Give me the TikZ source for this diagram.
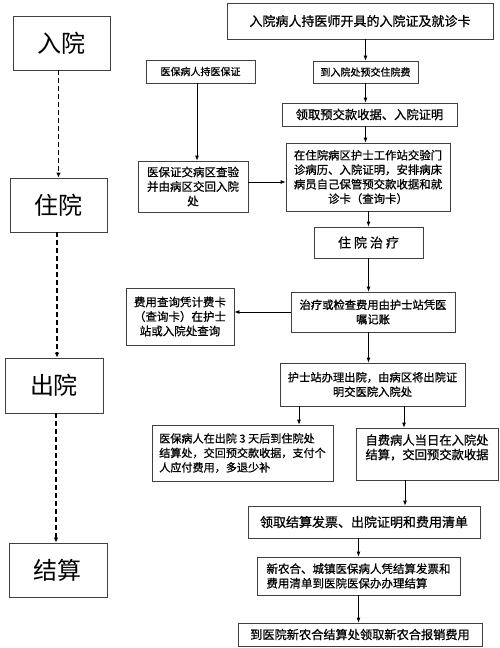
\documentclass[tikz,border=0pt]{standalone}
\usepackage{fontspec}
\newfontfamily\cjk{Noto Sans CJK SC}
\newfontfamily\cjkb{Noto Sans CJK SC}[FakeBold=0.8]
\usetikzlibrary{arrows.meta}
\tikzset{
  stagebox/.style={draw=black!75,line width=0.8pt,inner sep=0pt,font=\cjk\fontsize{24}{28}\selectfont},
  flowbox/.style={draw=black!75,line width=0.8pt,inner sep=0pt,font=\cjkb\fontsize{#1}{14.5}\selectfont},
  flowbox/.default=11,
  sz/.style n args={2}{minimum width=#1pt,minimum height=#2pt},
  flowarrow/.style={line width=0.8pt,-{Latex[length=5pt,width=4pt]}},
  stagearrow/.style={line width=1.4pt,dash pattern=on 5pt off 3pt,-{Latex[length=5pt,width=4.5pt]}}
}
\begin{document}
\begin{tikzpicture}[x=1pt,y=-1pt]
  \useasboundingbox[fill=white] (0,0) rectangle (500,648);
  % stages on the left
  \node[stagebox,sz={97}{54}] (ru)   at (61.5,43)  {入院};
  \node[stagebox,sz={97}{54}] (zhu)  at (58.5,205) {住院};
  \node[stagebox,sz={98}{55}] (chu)  at (54,385.5) {出院};
  \node[stagebox,sz={98}{54}] (jie)  at (58,570)   {结算};
  \draw[stagearrow] (ru.south -| zhu.north) -- (zhu.north);
  \draw[stagearrow] (zhu.south -| 57,0) -- (chu.north -| 57,0);
  \draw[stagearrow] (chu.south -| 56,0) -- (jie.north -| 56,0);
  % admission
  \node[flowbox=13,sz={266}{36}] (card)    at (360,21)    {入院病人持医师开具的入院证及就诊卡};
  \node[flowbox=10,sz={105}{22}] (prepay)  at (365.5,72)  {到入院处预交住院费};
  \node[flowbox=12.3,sz={175}{23}] (receipt) at (369.5,114.5) {领取预交款收据、入院证明};
  \node[flowbox=10,sz={109}{23}] (insur)   at (200.5,71.5) {医保病人持医保证};
  \node[flowbox=11.5,sz={110}{51},align=center] (check) at (193,186.5)
    {医保证交病区查验\\并由病区交回入院\\处};
  \node[flowbox=11.4,sz={164}{68},align=center] (ward) at (368,177)
    {在住院病区护士工作站交验门\\诊病历、入院证明，安排病床\\病员自己保管预交款收据和就\\诊卡（查询卡）};
  % stay
  \node[flowbox=13,sz={109}{31}] (treat) at (368.5,242.5)
    {住\hspace{3pt}院\hspace{3pt}治\hspace{3pt}疗};
  \node[flowbox=11.3,sz={164}{40},align=center] (bill) at (373,312)
    {治疗或检查费用由护士站凭医\\嘱记账};
  \node[flowbox=11.5,sz={108}{57},align=center] (query) at (180,316.5)
    {费用查询凭计费卡\\（查询卡）在护士\\站或入院处查询};
  % discharge
  \node[flowbox=11.3,sz={185}{43},align=center] (leave) at (372.5,384.5)
    {护士站办理出院，由病区将出院证\\明交医院入院处};
  \node[flowbox=11.1,sz={181}{56},align=left] (insurpay) at (242.5,453)
    {医保病人在出院 3 天后到住院处\\结算处，交回预交款收据，支付个\\人应付费用，多退少补};
  \node[flowbox=12.3,sz={142}{52},align=left] (selfpay) at (427,454)
    {自费病人当日在入院处\\结算，交回预交款收据\\\mbox{}};
  % settlement
  \node[flowbox=13,sz={232}{32}] (invoice) at (364,522) {领取结算发票、出院证明和费用清单};
  \node[flowbox=11.5,sz={203}{38},align=left] (rural) at (358.5,576)
    {新农合、城镇医保病人凭结算发票和\\费用清单到医院医保办办理结算};
  \node[flowbox=12.2,sz={244}{23}] (refund) at (360,634.5) {到医院新农合结算处领取新农合报销费用};
  % connectors
  \draw[flowarrow] (card.south -| prepay.north) -- (prepay.north);
  \draw[flowarrow] (prepay.south) -- (receipt.north -| prepay.south);
  \draw[flowarrow] (receipt.south -| prepay.south) -- (ward.north -| prepay.south);
  \draw[flowarrow] (insur.south -| 197,0) -- (check.north -| 197,0);
  \draw[flowarrow] (check.east |- 0,182) -- (ward.west |- 0,182);
  \draw[flowarrow] (ward.south -| treat.north) -- (treat.north);
  \draw[flowarrow] (treat.south) -- (bill.north -| treat.south);
  \draw[flowarrow] (bill.west) -- (query.east |- bill.west);
  \draw[flowarrow] (bill.south -| treat.south) -- (leave.north -| treat.south);
  \draw[flowarrow] (leave.south -| 299,0) -- (insurpay.north -| 299,0);
  \draw[flowarrow] (leave.south -| 404,0) -- (selfpay.north -| 404,0);
  \draw[flowarrow] (selfpay.south -| 405,0) -- (invoice.north -| 405,0);
  \draw[flowarrow] (invoice.south -| rural.north) -- (rural.north);
  \draw[flowarrow] (rural.south) -- (refund.north -| rural.south);
\end{tikzpicture}
\end{document}
